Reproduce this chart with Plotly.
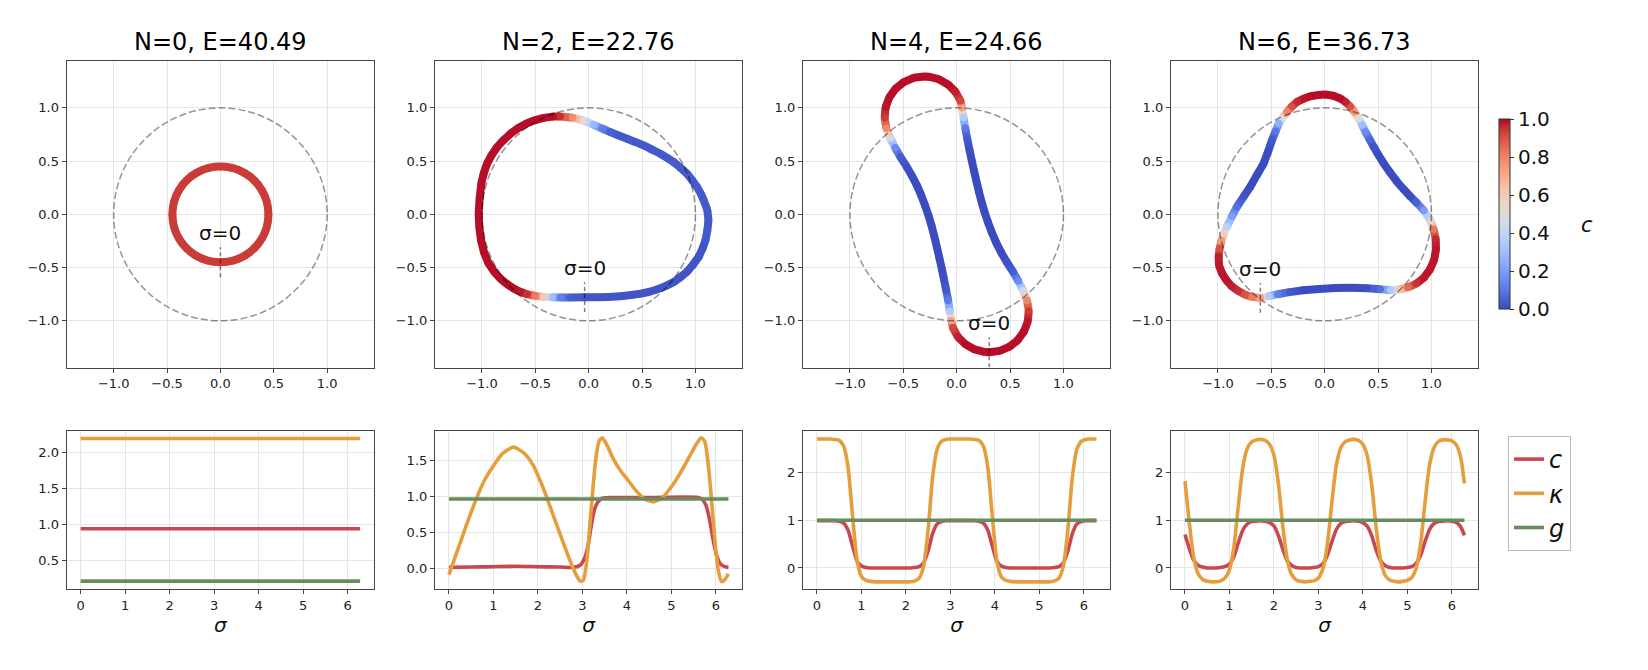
import plotly.graph_objects as go

# ------------------------------------------------------------------ data
panel_titles = ["N=0, E=40.49", "N=2, E=22.76", "N=4, E=24.66", "N=6, E=36.73"]
sigma_zero_label = "σ=0"
unit_circle_radius = 1.0

# ---- N=0 : closed curve (x, y) and its constant c
shape0_x = [0, .059, .116, .172, .225, .274, .318, .357, .390, .416, .435, .446, .450,
            .446, .435, .416, .390, .357, .318, .274, .225, .172, .116, .059, 0,
            -.059, -.116, -.172, -.225, -.274, -.318, -.357, -.390, -.416, -.435, -.446, -.450,
            -.446, -.435, -.416, -.390, -.357, -.318, -.274, -.225, -.172, -.116, -.059, 0]
shape0_y = [-.450, -.446, -.435, -.416, -.390, -.357, -.318, -.274, -.225, -.172, -.116, -.059, 0,
            .059, .116, .172, .225, .274, .318, .357, .390, .416, .435, .446, .450,
            .446, .435, .416, .390, .357, .318, .274, .225, .172, .116, .059, 0,
            -.059, -.116, -.172, -.225, -.274, -.318, -.357, -.390, -.416, -.435, -.446, -.450]
shape0_c_value = 0.94

sigma0 = [0.0, 6.2832]
c0 = [0.94, 0.94]
kappa0 = [2.20, 2.20]
g0 = [0.21, 0.21]

# ---- N=2
shape2_x = [-0.038, 0.06, 0.18, 0.30, 0.40, 0.49, 0.57, 0.64, 0.72, 0.80, 0.86, 0.92, 0.98, 1.03,
            1.067, 1.094, 1.112, 1.122, 1.112, 1.078, 1.05, 1.016, 0.97, 0.922, 0.86, 0.797, 0.735,
            0.672, 0.59, 0.516, 0.44, 0.36, 0.28, 0.203, 0.125, 0.047, -0.047, -0.15, -0.266, -0.34,
            -0.422, -0.50, -0.578, -0.66, -0.734, -0.80, -0.859, -0.91, -0.953, -0.985, -1.006,
            -1.022, -1.031, -1.025, -1.009, -0.98, -0.9375, -0.885, -0.828, -0.765, -0.703, -0.64,
            -0.578, -0.50, -0.422, -0.34, -0.266, -0.17, -0.038]
shape2_y = [-0.778, -0.778, -0.775, -0.769, -0.758, -0.744, -0.727, -0.706, -0.674, -0.634, -0.59,
            -0.54, -0.47, -0.40, -0.32, -0.244, -0.15, -0.056, 0.04, 0.131, 0.195, 0.256, 0.32, 0.381,
            0.437, 0.49, 0.53, 0.569, 0.61, 0.647, 0.678, 0.709, 0.74, 0.772, 0.806, 0.84, 0.881,
            0.908, 0.919, 0.918, 0.906, 0.885, 0.856, 0.81, 0.756, 0.695, 0.631, 0.555, 0.475, 0.38,
            0.2875, 0.15, 0.006, -0.12, -0.244, -0.36, -0.4625, -0.54, -0.603, -0.655, -0.697, -0.727,
            -0.75, -0.766, -0.775, -0.779, -0.781, -0.781, -0.778]
shape2_c = [0.02, 0.02, 0.02, 0.02, 0.02, 0.02, 0.02, 0.02, 0.02, 0.02, 0.02, 0.02, 0.02, 0.02,
            0.02, 0.03, 0.03, 0.03, 0.03, 0.03, 0.03, 0.03, 0.03, 0.03, 0.03, 0.03, 0.03,
            0.03, 0.03, 0.03, 0.03, 0.03, 0.03, 0.05, 0.12, 0.28, 0.50, 0.78, 0.95, 0.99,
            0.99, 0.99, 0.99, 0.99, 0.99, 0.99, 0.99, 0.99, 0.99, 0.99, 0.99,
            0.99, 0.99, 0.99, 0.99, 0.99, 0.99, 0.99, 0.99, 0.99, 0.99, 0.98,
            0.95, 0.82, 0.60, 0.30, 0.12, 0.04, 0.02]

sigma2_kappa = [0, 0.2, 0.4, 0.6, 0.8, 1.0, 1.2, 1.45, 1.7, 1.9, 2.1, 2.3, 2.5, 2.7, 2.85, 2.95,
                3.02, 3.1, 3.2, 3.3, 3.38, 3.45, 3.55, 3.7, 3.85, 4.0, 4.2, 4.4, 4.6, 4.8, 5.0,
                5.2, 5.4, 5.55, 5.67, 5.75, 5.82, 5.9, 5.97, 6.05, 6.13, 6.2, 6.2832]
kappa2 = [-0.08, 0.27, 0.62, 0.95, 1.23, 1.43, 1.60, 1.69, 1.60, 1.43, 1.15, 0.82, 0.48, 0.15,
          -0.07, -0.17, -0.16, 0.12, 0.85, 1.52, 1.78, 1.82, 1.72, 1.52, 1.37, 1.25, 1.09, 0.97,
          0.93, 0.99, 1.14, 1.33, 1.55, 1.72, 1.82, 1.77, 1.50, 0.98, 0.45, 0.0, -0.18, -0.15, -0.07]
sigma2_c = [0, 0.5, 1.0, 1.5, 2.0, 2.5, 2.8, 2.95, 3.05, 3.12, 3.2, 3.27, 3.35, 3.45, 3.6, 4.5,
            5.6, 5.7, 5.78, 5.86, 5.94, 6.02, 6.1, 6.2, 6.2832]
c2 = [0.02, 0.025, 0.03, 0.035, 0.03, 0.025, 0.02, 0.05, 0.15, 0.30, 0.60, 0.82, 0.93, 0.98,
      0.99, 0.99, 0.99, 0.96, 0.88, 0.68, 0.40, 0.18, 0.07, 0.03, 0.02]
sigma2_g = [0.0, 6.2832]
g2 = [0.97, 0.97]

# ---- N=4 (curve sampled at the same sigma values as the profiles)
sigma4 = [0.0, 0.1, 0.2, 0.3, 0.4, 0.5, 0.6, 0.7, 0.8, 0.9, 1.0, 1.1, 1.2, 1.3, 1.4, 1.5, 1.6,
          1.7, 1.8, 1.9, 2.0, 2.1, 2.2, 2.3, 2.4, 2.5, 2.6, 2.7, 2.8, 2.9, 3.0, 3.1, 3.1416,
          3.2416, 3.3416, 3.4416, 3.5416, 3.6416, 3.7416, 3.8416, 3.9416, 4.0416, 4.1416, 4.2416,
          4.3416, 4.4416, 4.5416, 4.6416, 4.7416, 4.8416, 4.9416, 5.0416, 5.1416, 5.2416, 5.3416,
          5.4416, 5.5416, 5.6416, 5.7416, 5.8416, 5.9416, 6.0416, 6.1416, 6.2416, 6.2832]
kappa4 = [2.70, 2.70, 2.70, 2.70, 2.69, 2.67, 2.55, 2.10, 1.09, 0.17, -0.18, -0.26, -0.28, -0.29,
          -0.29, -0.29, -0.29, -0.29, -0.29, -0.29, -0.29, -0.29, -0.27, -0.21, 0.05, 0.81, 1.90,
          2.48, 2.65, 2.69, 2.70, 2.70, 2.70,
          2.70, 2.70, 2.70, 2.69, 2.67, 2.55, 2.10, 1.09, 0.17, -0.18, -0.26, -0.28, -0.29,
          -0.29, -0.29, -0.29, -0.29, -0.29, -0.29, -0.29, -0.29, -0.27, -0.21, 0.05, 0.81, 1.90,
          2.48, 2.65, 2.69, 2.70, 2.70, 2.70]
c4 = [0.99, 0.99, 0.99, 0.99, 0.99, 0.98, 0.94, 0.79, 0.46, 0.15, 0.04, 0.01, 0.0, 0.0, 0.0,
      0.0, 0.0, 0.0, 0.0, 0.0, 0.0, 0.0, 0.01, 0.03, 0.11, 0.36, 0.72, 0.92, 0.97, 0.99, 0.99,
      0.99, 0.99,
      0.99, 0.99, 0.99, 0.99, 0.98, 0.94, 0.79, 0.46, 0.15, 0.04, 0.01, 0.0, 0.0, 0.0,
      0.0, 0.0, 0.0, 0.0, 0.0, 0.0, 0.0, 0.01, 0.03, 0.11, 0.36, 0.72, 0.92, 0.97, 0.99, 0.99,
      0.99, 0.99]
sigma4_g = [0.0, 6.2832]
g4 = [1.0, 1.0]
shape4_x = [0.305, 0.404, 0.496, 0.573, 0.631, 0.666, 0.675, 0.659, 0.623, 0.577, 0.528, 0.470,
            0.418, 0.372, 0.331, 0.295, 0.263, 0.235, 0.209, 0.185, 0.162, 0.140, 0.119, 0.099,
            0.080, 0.064, 0.050, 0.036, -0.011, -0.081, -0.168, -0.265, -0.305,
            -0.404, -0.496, -0.573, -0.631, -0.666, -0.675, -0.659, -0.623, -0.577, -0.528, -0.470,
            -0.418, -0.372, -0.331, -0.295, -0.263, -0.235, -0.209, -0.185, -0.162, -0.140, -0.119,
            -0.099, -0.080, -0.064, -0.050, -0.036, 0.011, 0.081, 0.168, 0.265, 0.305]
shape4_y = [-1.295, -1.282, -1.242, -1.180, -1.099, -1.006, -0.907, -0.808, -0.715, -0.626, -0.540,
            -0.450, -0.360, -0.270, -0.175, -0.080, 0.015, 0.110, 0.210, 0.310, 0.410, 0.510, 0.610,
            0.710, 0.810, 0.910, 1.000, 1.065, 1.150, 1.220, 1.269, 1.293, 1.295,
            1.282, 1.242, 1.180, 1.099, 1.006, 0.907, 0.808, 0.715, 0.626, 0.540,
            0.450, 0.360, 0.270, 0.175, 0.080, -0.015, -0.110, -0.210, -0.310, -0.410, -0.510, -0.610,
            -0.710, -0.810, -0.910, -1.000, -1.065, -1.150, -1.220, -1.269, -1.293, -1.295]

# ---- N=6
shape6_x = [-0.603, -0.52, -0.44, -0.33, -0.20, -0.05, 0.10, 0.25, 0.40, 0.52, 0.62, 0.70, 0.78,
            0.86, 0.93, 0.985, 1.025, 1.043, 1.04, 1.02, 0.997, 0.93, 0.86, 0.80, 0.74, 0.678, 0.615,
            0.553, 0.505, 0.459, 0.42, 0.381, 0.35, 0.319, 0.28, 0.24, 0.195, 0.147, 0.075, 0.006,
            -0.065, -0.134, -0.20, -0.259, -0.31, -0.353, -0.395, -0.431, -0.46, -0.494, -0.53,
            -0.572, -0.635, -0.697, -0.76, -0.822, -0.87, -0.916, -0.945, -0.968, -0.985, -0.994,
            -0.99, -0.9625, -0.92, -0.869, -0.81, -0.744, -0.68, -0.603]
shape6_y = [-0.785, -0.768, -0.75, -0.73, -0.712, -0.70, -0.692, -0.69, -0.694, -0.703, -0.712,
            -0.705, -0.685, -0.65, -0.595, -0.52, -0.43, -0.33, -0.23, -0.14, -0.069, 0.035, 0.11,
            0.17, 0.235, 0.306, 0.39, 0.478, 0.555, 0.634, 0.705, 0.775, 0.84, 0.9, 0.96, 1.01,
            1.055, 1.0875, 1.115, 1.125, 1.12, 1.109, 1.085, 1.056, 1.01, 0.9625, 0.905, 0.853,
            0.78, 0.697, 0.59, 0.478, 0.37, 0.259, 0.165, 0.072, -0.02, -0.116, -0.18, -0.25, -0.32,
            -0.397, -0.48, -0.553, -0.62, -0.678, -0.72, -0.756, -0.775, -0.785]
shape6_c = [0.72, 0.35, 0.12, 0.03, 0.0, 0.0, 0.0, 0.0, 0.01, 0.08, 0.35, 0.62, 0.85, 0.95, 0.98,
            0.98, 0.98, 0.98, 0.96, 0.82, 0.55, 0.20, 0.05, 0.0, 0.0, 0.0, 0.0, 0.0, 0.0, 0.02, 0.07,
            0.15, 0.30, 0.50, 0.75, 0.90, 0.97, 0.99, 0.99, 0.99, 0.99, 0.99, 0.98, 0.96, 0.90,
            0.80, 0.50, 0.25, 0.10, 0.03, 0.0, 0.0, 0.0, 0.0, 0.02, 0.08, 0.20, 0.38, 0.58, 0.75,
            0.90, 0.97, 0.98, 0.98, 0.98, 0.97, 0.95, 0.90, 0.82, 0.72]

sigma6 = [0.0, 0.1, 0.2, 0.3, 0.4, 0.5, 0.6, 0.7, 0.8, 0.9, 1.0, 1.1, 1.2, 1.3, 1.4, 1.5, 1.6,
          1.7, 1.8, 1.9, 2.0, 2.1, 2.2, 2.3, 2.4, 2.5, 2.6, 2.7, 2.8, 2.9, 3.0, 3.1, 3.2, 3.3, 3.4,
          3.5, 3.6, 3.7, 3.8, 3.9, 4.0, 4.1, 4.2, 4.3, 4.4, 4.5, 4.6, 4.7, 4.8, 4.9, 5.0, 5.1, 5.2,
          5.3, 5.4, 5.5, 5.6, 5.7, 5.8, 5.9, 6.0, 6.1, 6.2, 6.2832]
kappa6 = [1.82, 0.93, 0.20, -0.13, -0.24, -0.28, -0.29, -0.29, -0.27, -0.21, -0.04, 0.44, 1.30,
          2.10, 2.50, 2.64, 2.68, 2.69, 2.67, 2.59, 2.36, 1.77, 0.87, 0.17, -0.14, -0.25, -0.28,
          -0.29, -0.28, -0.27, -0.21, -0.02, 0.48, 1.35, 2.13, 2.51, 2.64, 2.68, 2.69, 2.67, 2.59,
          2.34, 1.73, 0.83, 0.15, -0.15, -0.25, -0.28, -0.29, -0.28, -0.26, -0.20, 0.00, 0.52,
          1.40, 2.16, 2.52, 2.65, 2.68, 2.68, 2.66, 2.58, 2.31, 1.77]
c6 = [0.70, 0.40, 0.16, 0.05, 0.02, 0.0, 0.0, 0.0, 0.01, 0.03, 0.08, 0.24, 0.53, 0.79, 0.92,
      0.97, 0.98, 0.99, 0.98, 0.95, 0.88, 0.68, 0.39, 0.15, 0.05, 0.01, 0.0, 0.0, 0.0, 0.01, 0.03,
      0.09, 0.26, 0.54, 0.80, 0.93, 0.97, 0.98, 0.99, 0.98, 0.95, 0.87, 0.67, 0.37, 0.15, 0.05,
      0.01, 0.0, 0.0, 0.0, 0.01, 0.03, 0.10, 0.27, 0.56, 0.81, 0.93, 0.97, 0.98, 0.99, 0.98, 0.95,
      0.86, 0.68]
sigma6_g = [0.0, 6.2832]
g6 = [1.0, 1.0]

# ------------------------------------------------------------------ style
W, H = 1648, 670
FONT = "DejaVu Sans"
C_COLOR, K_COLOR, G_COLOR = "rgb(200,72,82)", "rgb(229,158,60)", "rgb(104,140,94)"
coolwarm = [(0.0, (59, 76, 192)), (0.0625, (77, 104, 215)), (0.125, (98, 130, 234)),
            (0.1875, (119, 154, 247)), (0.25, (141, 176, 254)), (0.3125, (163, 194, 255)),
            (0.375, (184, 208, 249)), (0.4375, (204, 217, 238)), (0.5, (221, 221, 221)),
            (0.5625, (236, 211, 197)), (0.625, (245, 196, 172)), (0.6875, (247, 177, 148)),
            (0.75, (244, 154, 123)), (0.8125, (236, 127, 99)), (0.875, (222, 96, 77)),
            (0.9375, (203, 62, 56)), (1.0, (180, 4, 38))]
colorscale = [[p, "rgb(%d,%d,%d)" % c] for p, c in coolwarm]


def cmap(v):
    v = min(max(v, 0.0), 1.0)
    for (p0, c0_), (p1, c1_) in zip(coolwarm[:-1], coolwarm[1:]):
        if v <= p1:
            t = (v - p0) / (p1 - p0)
            return "rgb(%d,%d,%d)" % tuple(round(a + (b - a) * t) for a, b in zip(c0_, c1_))
    return "rgb(180,4,38)"


frame_left = [66.7, 435.0, 803.0, 1171.0]
frame_w = 307.4
top_px = (61.0, 367.7)
bot_px = (431.3, 589.0)

fig = go.Figure()

shapes = [
    (shape0_x, shape0_y, [shape0_c_value] * len(shape0_x)),
    (shape2_x, shape2_y, shape2_c),
    (shape4_x, shape4_y, c4),
    (shape6_x, shape6_y, shape6_c),
]
for xs, ys, cs in shapes:
    assert len(xs) == len(ys) == len(cs), (len(xs), len(ys), len(cs))

profiles = [
    ((sigma0, c0), (sigma0, kappa0), (sigma0, g0)),
    ((sigma2_c, c2), (sigma2_kappa, kappa2), (sigma2_g, g2)),
    ((sigma4, c4), (sigma4, kappa4), (sigma4_g, g4)),
    ((sigma6, c6), (sigma6, kappa6), (sigma6_g, g6)),
]
for trip in profiles:
    for s, v in trip:
        assert len(s) == len(v), (len(s), len(v))

annotations = []
layout_shapes = []
for i in range(4):
    xa, ya = "x%d" % (i + 1), "y%d" % (i + 1)
    xs, ys, cs = shapes[i]
    for k in range(len(xs) - 1):
        fig.add_trace(go.Scatter(x=[xs[k], xs[k + 1]], y=[ys[k], ys[k + 1]], mode="lines",
                                 line=dict(color=cmap(0.5 * (cs[k] + cs[k + 1])), width=8),
                                 xaxis=xa, yaxis=ya, showlegend=False, hoverinfo="skip"))
    fig.add_trace(go.Scatter(
        x=xs, y=ys, mode="markers", xaxis=xa, yaxis=ya, showlegend=False, hoverinfo="skip",
        marker=dict(size=7.6, color=cs, colorscale=colorscale, cmin=0, cmax=1, line=dict(width=0),
                    showscale=(i == 3),
                    colorbar=dict(x=1499.3 / W, xanchor="left", xpad=0, y=1 - 214.3 / H,
                                  yanchor="middle", ypad=0, len=190, lenmode="pixels",
                                  thickness=11, thicknessmode="pixels", outlinewidth=1,
                                  outlinecolor="#333", ticks="outside", ticklen=4,
                                  tickcolor="#333", tickvals=[0, 0.2, 0.4, 0.6, 0.8, 1.0],
                                  tickformat=".1f",
                                  tickfont=dict(family=FONT, size=20, color="#111")))))
    # sigma = 0 marker
    x0, y0 = xs[0], ys[0]
    fig.add_trace(go.Scatter(x=[x0, x0], y=[y0 - 0.14, y0 + 0.14], mode="lines",
                             line=dict(color="rgba(0,0,0,0.5)", width=1.5, dash="4px,3px"),
                             xaxis=xa, yaxis=ya, showlegend=False, hoverinfo="skip"))
    annotations.append(dict(x=x0, y=y0 + 0.275, xref=xa, yref=ya, text=sigma_zero_label,
                            showarrow=False, xanchor="center", yanchor="middle",
                            font=dict(family=FONT, size=20, color="#111")))
    layout_shapes.append(dict(type="circle", xref=xa, yref=ya, x0=-unit_circle_radius,
                              x1=unit_circle_radius, y0=-unit_circle_radius,
                              y1=unit_circle_radius, layer="above",
                              line=dict(color="rgba(0,0,0,0.42)", width=1.5, dash="7px,3px")))
    annotations.append(dict(x=(frame_left[i] + frame_w / 2) / W, y=1 - 41.7 / H, xref="paper",
                            yref="paper", text=panel_titles[i], showarrow=False,
                            xanchor="center", yanchor="middle",
                            font=dict(family=FONT, size=24, color="#000")))

    # bottom profiles
    xb, yb = "x%d" % (i + 5), "y%d" % (i + 5)
    names = ["<i>c</i>", "<i>κ</i>", "<i>g</i>"]
    cols = [C_COLOR, K_COLOR, G_COLOR]
    for (s, v), nm, col in zip(profiles[i], names, cols):
        fig.add_trace(go.Scatter(x=s, y=v, mode="lines", name=nm, legendgroup=nm,
                                 showlegend=(i == 0),
                                 line=dict(color=col, width=3.6, shape="spline", smoothing=0.6),
                                 xaxis=xb, yaxis=yb, hoverinfo="skip"))

annotations.append(dict(x=1587 / W, y=1 - 225 / H, xref="paper", yref="paper", text="<i>c</i>",
                        showarrow=False, xanchor="center", yanchor="middle",
                        font=dict(family=FONT, size=21, color="#111")))

axis_common = dict(showline=True, mirror=True, linecolor="#444", linewidth=1.2, ticks="outside",
                   ticklen=4, tickwidth=1, tickcolor="#444", showgrid=True, gridcolor="#e6e6e6",
                   gridwidth=1, zeroline=False, automargin=False,
                   tickfont=dict(family=FONT, size=13, color="#222"))
layout = dict(width=W, height=H, margin=dict(l=0, r=0, t=0, b=0), autosize=False,
              paper_bgcolor="white", plot_bgcolor="white", showlegend=True,
              annotations=annotations, shapes=layout_shapes,
              font=dict(family=FONT),
              legend=dict(x=1508 / W, y=1 - 436 / H, xanchor="left", yanchor="top",
                          bgcolor="white", bordercolor="#bbbbbb", borderwidth=1,
                          font=dict(family=FONT, size=24, color="#111"), tracegroupgap=0))

bottom_yranges = [[0.1, 2.3], [-0.28, 1.91], [-0.44, 2.86], [-0.44, 2.86]]
bottom_yticks = [[0.5, 1.0, 1.5, 2.0], [0.0, 0.5, 1.0, 1.5], [0, 1, 2], [0, 1, 2]]
bottom_yfmt = [".1f", ".1f", "d", "d"]
top_ticks = [-1.0, -0.5, 0.0, 0.5, 1.0]
for i in range(4):
    xd = [frame_left[i] / W, (frame_left[i] + frame_w) / W]
    layout["xaxis%d" % (i + 1)] = dict(axis_common, domain=xd, anchor="y%d" % (i + 1),
                                        range=[-1.44, 1.44], tickvals=top_ticks, tickformat=".1f")
    layout["yaxis%d" % (i + 1)] = dict(axis_common, domain=[1 - top_px[1] / H, 1 - top_px[0] / H],
                                        anchor="x%d" % (i + 1), range=[-1.44, 1.44],
                                        tickvals=top_ticks, tickformat=".1f")
    layout["xaxis%d" % (i + 5)] = dict(axis_common, domain=xd, anchor="y%d" % (i + 5),
                                        range=[-0.314, 6.597], tickvals=[0, 1, 2, 3, 4, 5, 6],
                                        title=dict(text="<i>σ</i>", standoff=6,
                                                   font=dict(family=FONT, size=20, color="#111")))
    layout["yaxis%d" % (i + 5)] = dict(axis_common, domain=[1 - bot_px[1] / H, 1 - bot_px[0] / H],
                                        anchor="x%d" % (i + 5), range=bottom_yranges[i],
                                        tickvals=bottom_yticks[i], tickformat=bottom_yfmt[i])

fig.update_layout(**layout)
fig.write_html("out.html")
